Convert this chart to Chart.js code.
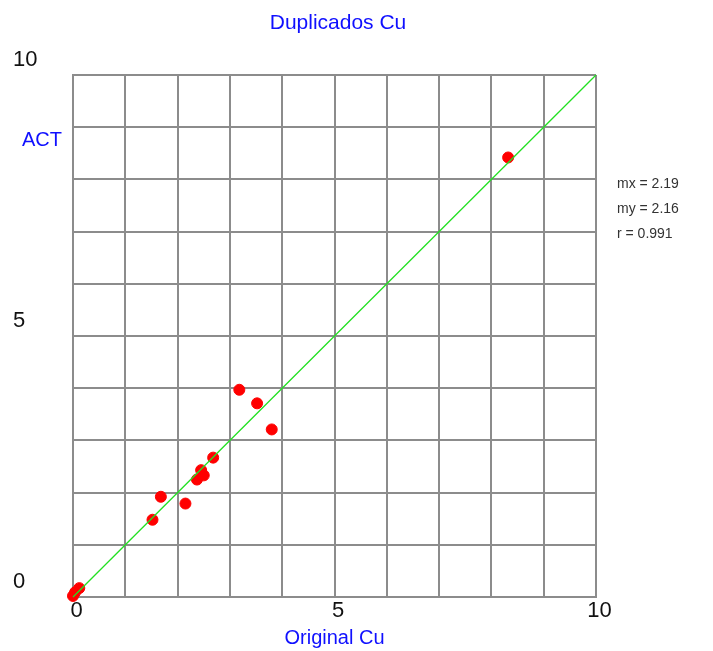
<!DOCTYPE html>
<html>
<head>
<meta charset="utf-8">
<script src="https://cdn.jsdelivr.net/npm/chart.js@4"></script>
<style>
  html, body { margin: 0; padding: 0; background: #fff; }
  #wrap { width: 713px; height: 651px; }
</style>
</head>
<body>
<div id="wrap"><canvas id="dupChart" width="713" height="651"></canvas></div>
<script>
// values
var origX = [0.00, 0.04, 0.12, 1.52, 1.68, 2.15, 2.37, 2.45, 2.50, 2.68, 3.18, 3.52, 3.80, 8.32];
var dupY  = [0.02, 0.09, 0.17, 1.48, 1.92, 1.79, 2.25, 2.43, 2.33, 2.67, 3.97, 3.71, 3.21, 8.42];
var diagX = [0, 10];
var diagY = [0, 10];
var axisTicks = [0, 5, 10];
var statLines = ['mx = 2.19', 'my = 2.16', 'r = 0.991'];

var points = origX.map(function (x, i) { return { x: x, y: dupY[i] }; });
var diag = diagX.map(function (x, i) { return { x: x, y: diagY[i] }; });

var gridGrey = '#8c8c8c';
var blue = '#1010ff';
var fam = '"Liberation Sans", Arial, sans-serif';

// extra texts: title, y caption and the stats block
var notes = {
    id: 'notes',
    afterDraw: function (chart) {
        var c = chart.ctx;
        var area = chart.chartArea;
        var ys = chart.scales.y;
        c.save();
        c.textBaseline = 'middle';
        c.font = '21px ' + fam;
        c.fillStyle = blue;
        c.textAlign = 'center';
        c.fillText('Duplicados Cu', 338, 23);
        c.font = '20px ' + fam;
        c.fillText('ACT', 42, ys.getPixelForValue(8.75));
        c.textAlign = 'left';
        c.fillStyle = '#333';
        c.font = '14px ' + fam;
        statLines.forEach(function (t, i) {
            c.fillText(t, area.right + 21, 184 + i * 25);
        });
        c.restore();
    }
};

var ctx = document.getElementById('dupChart').getContext('2d');
var chart = new Chart(ctx, {
    type: 'scatter',
    data: {
        datasets: [{
            type: 'line',
            data: diag,
            borderColor: '#22e022',
            borderWidth: 1.3,
            pointRadius: 0,
            fill: false
        }, {
            data: points,
            backgroundColor: '#ff0000',
            borderColor: '#ff0000',
            pointRadius: 5.5,
            pointHoverRadius: 5.5
        }]
    },
    options: {
        responsive: false,
        animation: false,
        clip: false,
        layout: { padding: { top: 75, right: 117, left: 13, bottom: 0 } },
        plugins: {
            legend: { display: false },
            tooltip: { enabled: false }
        },
        scales: {
            x: {
                type: 'linear',
                min: 0,
                max: 10,
                afterFit: function (s) { s.height = 54; },
                grid: { color: gridGrey, lineWidth: 2, drawTicks: false },
                border: { color: gridGrey, width: 2 },
                ticks: {
                    stepSize: 1,
                    autoSkip: false,
                    maxRotation: 0,
                    padding: 1,
                    labelOffset: 3.5,
                    color: '#111',
                    font: { family: fam, size: 22 },
                    callback: function (v) { return axisTicks.indexOf(v) >= 0 ? String(v) : ''; }
                },
                title: {
                    display: true,
                    text: 'Original Cu',
                    color: blue,
                    padding: { top: 0, bottom: 1 },
                    font: { family: fam, size: 20 }
                }
            },
            y: {
                type: 'linear',
                min: 0,
                max: 10,
                afterFit: function (s) { s.width = 60; },
                grid: { color: gridGrey, lineWidth: 2, drawTicks: false },
                border: { color: gridGrey, width: 2 },
                ticks: {
                    stepSize: 1,
                    autoSkip: false,
                    crossAlign: 'far',
                    labelOffset: -15.5,
                    color: '#111',
                    font: { family: fam, size: 22 },
                    callback: function (v) { return axisTicks.indexOf(v) >= 0 ? String(v) : ''; }
                }
            }
        }
    },
    plugins: [notes]
});
</script>
</body>
</html>
